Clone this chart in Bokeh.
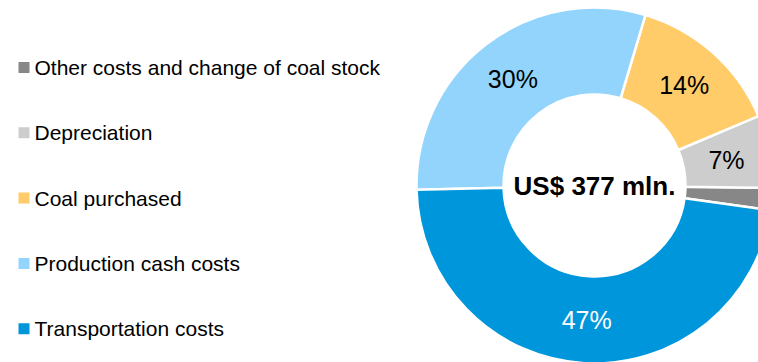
import numpy as np
from bokeh.plotting import figure
from bokeh.models import Range1d, ColumnDataSource
from bokeh.core.properties import value
from bokeh.embed import file_html
from bokeh.resources import INLINE

# ---- data ----
categories = ["Other costs and change of coal stock", "Depreciation", "Coal purchased",
              "Production cash costs", "Transportation costs"]
shares = [2.0, 6.6, 14.0, 30.0, 47.4]          # % of total costs
colors = ["#878787", "#CDCDCD", "#FFCC69", "#93D4FC", "#0096DB"]
label_colors = ["black", "black", "black", "black", "white"]
total_text = "US$ 377 mln."

W, H = 758, 362
p = figure(width=W, height=H, output_backend="svg", toolbar_location=None,
           x_range=Range1d(0, W), y_range=Range1d(0, H), min_border=0)
p.axis.visible = False
p.grid.visible = False
p.outline_line_color = None
p.background_fill_color = "white"
p.border_fill_color = "white"

cx, cy = 594, H - 185
r_in, r_out = 91, 178
start_deg = -8.0

vals = np.array(shares, dtype=float)
ang = vals / vals.sum() * 2 * np.pi
ends = np.deg2rad(start_deg) + np.cumsum(ang)
starts = ends - ang

src = ColumnDataSource(dict(start=starts, end=ends, color=colors))
p.annular_wedge(x=cx, y=cy, inner_radius=r_in, outer_radius=r_out,
                start_angle="start", end_angle="end", fill_color="color",
                line_color="white", line_width=2.5, source=src)

# slice labels
mid = (starts + ends) / 2
r_mid = (r_in + r_out) / 2
pct = vals / vals.sum() * 100
lab_idx = [i for i in range(len(vals)) if pct[i] >= 5]
p.text(x=[cx + r_mid * np.cos(mid[i]) for i in lab_idx],
       y=[cy + r_mid * np.sin(mid[i]) for i in lab_idx],
       text=[f"{round(pct[i]):d}%" for i in lab_idx],
       text_color=[label_colors[i] for i in lab_idx],
       text_font=value("Liberation Sans"), text_font_size="25px",
       text_align="center", text_baseline="middle")

# center total
p.text(x=[cx], y=[cy], text=[total_text], text_font=value("Liberation Sans"),
       text_font_size="26px", text_font_style="bold", text_color="black",
       text_align="center", text_baseline="middle")

# legend
lx = 23.5
ly0, lstep = H - 67, 65.3
ly = [ly0 - k * lstep for k in range(len(categories))]
p.scatter(x=[lx] * len(categories), y=ly, marker="square", size=11,
          fill_color=colors, line_color=None)
p.text(x=[lx + 10.5] * len(categories), y=ly, text=categories,
       text_font=value("Liberation Sans"), text_font_size="21px",
       text_color="black", text_align="left", text_baseline="middle")

open("out.html", "w").write(file_html(p, INLINE))
